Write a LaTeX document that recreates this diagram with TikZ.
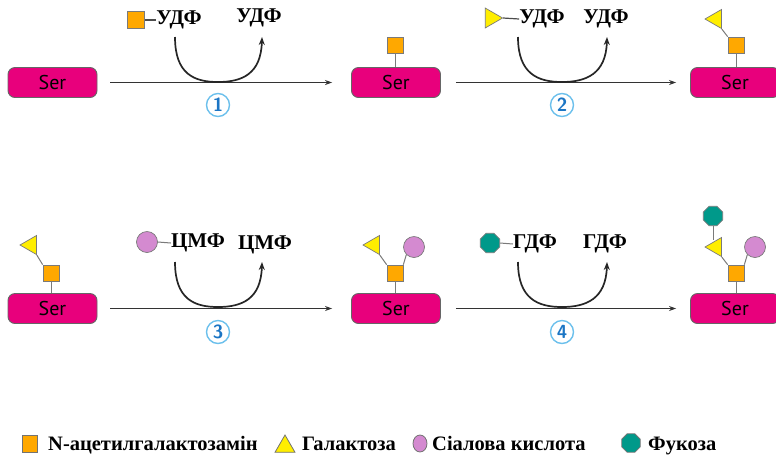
\documentclass[tikz,border=0pt]{standalone}
\usepackage{fontspec}
\setmainfont{Liberation Serif}
\newfontfamily\serfont{PT Sans}
\usetikzlibrary{shapes.geometric,arrows.meta}
\definecolor{sermag}{HTML}{E8007C}
\definecolor{gnac}{HTML}{FFA800}
\definecolor{ggal}{HTML}{FFEE00}
\definecolor{gsia}{HTML}{D48AD0}
\definecolor{gfuc}{HTML}{00998A}
\definecolor{numblue}{HTML}{1B75C4}
\definecolor{ringblue}{HTML}{6CC0EC}
\definecolor{edgegray}{HTML}{7A7A7A}
\begin{document}
\begin{tikzpicture}[x=1pt,y=-1pt,
 serbox/.style={rounded corners=7pt, fill=sermag, draw=black!60, line width=0.9pt, minimum width=89pt, minimum height=30pt, font=\serfont\fontsize{20}{20}\selectfont, inner sep=0},
 gnacs/.style={rectangle, fill=gnac, draw=edgegray, line width=0.7pt, minimum size=16pt, inner sep=0},
 ggalt/.style={regular polygon, regular polygon sides=3, fill=ggal, draw=edgegray, line width=0.7pt, minimum size=22pt, inner sep=0},
 gleft/.style={ggalt, shape border rotate=90},
 gright/.style={ggalt, shape border rotate=-90},
 gsiac/.style={circle, fill=gsia, draw=edgegray, line width=0.7pt, minimum size=21pt, inner sep=0},
 gfuco/.style={regular polygon, regular polygon sides=8, fill=gfuc, draw=edgegray, line width=0.7pt, minimum size=21pt, inner sep=0},
 bond/.style={draw=edgegray, line width=1pt},
 linkdash/.style={draw=black!70, line width=1.2pt},
 react/.style={draw=black!80, line width=1pt, -{Stealth[length=7pt,width=5pt]}},
 cofac/.style={draw=black!85, line width=1.7pt, -{Stealth[length=8pt,width=6pt]}},
 lbl/.style={font=\bfseries\fontsize{21}{21}\selectfont, inner sep=0},
 stepnum/.style={circle, draw=ringblue, line width=1.4pt, minimum size=23pt, inner sep=0, font=\sffamily\bfseries\fontsize{19}{19}\selectfont, text=numblue},
 leg/.style={font=\bfseries\fontsize{20.5}{20.5}\selectfont, inner sep=0, anchor=base west}
]
\useasboundingbox (0,0) rectangle (776,456);

% ---------- Row 1 ----------
\node[serbox] (s1) at (52.5,82.5) {Ser};
\node[serbox] (s2) at (396,82.5) {Ser};
\node[serbox] (s3) at (735,82.5) {Ser};

\node[gnacs] (s2a) at (395,45) {};
\draw[bond] (s2a.south) -- (s2a.south |- s2.north);

\node[gnacs] (s3a) at (736,45) {};
\node[gleft] (s3b) at (716,19) {};
\draw[bond] (s3a.south) -- (s3a.south |- s3.north);
\draw[bond] (s3b.corner 2) -- (s3a.north west);

\draw[react, shorten <=13pt, shorten >=19pt] (s1.east) -- (s2.west);
\draw[react, shorten <=15pt, shorten >=14pt] (s2.east) -- (s3.west);

\node[stepnum] (n1) at (218,105) {1};
\node[stepnum] (n2) at (562,105) {2};

% reaction 1
\node[gnacs, minimum size=17pt] (d1) at (136,20) {};
\node[lbl] (u1) at (179,20) {УДФ};
\node[lbl] (u2) at (259,18) {УДФ};
\draw[linkdash] (d1.east) -- (u1.west);
\coordinate (c1s) at (175,37);
\coordinate (c1m) at (218,82);
\coordinate (c1e) at (262,37);
\draw[cofac] (c1s) .. controls (175,74) and (194,82) .. (c1m) .. controls (242,82) and (261,74) .. (c1e);

% reaction 2
\node[gright, minimum size=23pt] (d2) at (491,18) {};
\node[lbl] (u3) at (542,19) {УДФ};
\node[lbl] (u4) at (606,19) {УДФ};
\draw[linkdash] (d2.corner 1) -- (u3.west);
\coordinate (c2s) at (518,37);
\coordinate (c2m) at (562,82);
\coordinate (c2e) at (607,37);
\draw[cofac] (c2s) .. controls (518,74) and (538,82) .. (c2m) .. controls (586,82) and (606,74) .. (c2e);

% ---------- Row 2 ----------
\node[serbox] (s4) at (52.5,308.5) {Ser};
\node[serbox] (s5) at (396,308.5) {Ser};
\node[serbox] (s6) at (735,308.5) {Ser};

\node[gnacs] (s4a) at (51,273) {};
\node[gleft] (s4b) at (31,245) {};
\draw[bond] (s4a.south) -- (s4a.south |- s4.north);
\draw[bond] (s4b.corner 2) -- (s4a.north west);

\node[gnacs] (s5a) at (395,273) {};
\node[gleft] (s5b) at (374,245) {};
\node[gsiac] (s5c) at (414,247) {};
\draw[bond] (s5a.south) -- (s5a.south |- s5.north);
\draw[bond] (s5b.corner 2) -- (s5a.north west);
\draw[bond] (s5c.south west) -- (s5a.north east);

\node[gnacs] (s6a) at (736,273) {};
\node[gleft] (s6b) at (716,247) {};
\node[gsiac] (s6c) at (755,247) {};
\node[gfuco] (s6d) at (713,216) {};
\draw[bond] (s6a.south) -- (s6a.south |- s6.north);
\draw[bond] (s6b.corner 2) -- (s6a.north west);
\draw[bond] (s6c.south west) -- (s6a.north east);
\draw[bond] (s6d.south) -- (s6d.south |- s6b.north);

\draw[react, shorten <=13pt, shorten >=19pt] (s4.east) -- (s5.west);
\draw[react, shorten <=15pt, shorten >=14pt] (s5.east) -- (s6.west);

\node[stepnum] (n3) at (218,332) {3};
\node[stepnum] (n4) at (562,332) {4};

% reaction 3
\node[gsiac] (d3) at (147,242) {};
\node[lbl] (u5) at (198,243) {ЦМФ};
\node[lbl] (u6) at (265,245) {ЦМФ};
\draw[bond] (d3.east) -- (u5.west);
\coordinate (c3s) at (175,262);
\coordinate (c3m) at (218,307);
\coordinate (c3e) at (262,262);
\draw[cofac] (c3s) .. controls (175,299) and (194,307) .. (c3m) .. controls (242,307) and (261,299) .. (c3e);

% reaction 4
\node[gfuco] (d4) at (490,243) {};
\node[lbl] (u7) at (535,244) {ГДФ};
\node[lbl] (u8) at (605,244) {ГДФ};
\draw[bond] (d4.east) -- (u7.west);
\coordinate (c4s) at (518,262);
\coordinate (c4m) at (562,307);
\coordinate (c4e) at (607,262);
\draw[cofac] (c4s) .. controls (518,299) and (538,307) .. (c4m) .. controls (586,307) and (606,299) .. (c4e);

% ---------- Legend ----------
\node[rectangle, fill=gnac, draw=black!55, line width=0.8pt, minimum width=15pt, minimum height=17pt, inner sep=0] (l1) at (29.5,443.5) {};
\node[leg] (l1t) at (48,450) {N-ацетилгалактозамін};
\node[regular polygon, regular polygon sides=3, fill=ggal, draw=black!55, line width=0.8pt, minimum size=23pt, inner sep=0] (l2) at (285,446.5) {};
\node[leg] (l2t) at (302,450) {Галактоза};
\node[ellipse, fill=gsia, draw=black!55, line width=0.8pt, minimum width=14pt, minimum height=17pt, inner sep=0] (l3) at (420,443.5) {};
\node[leg] (l3t) at (432,450) {Сіалова кислота};
\node[regular polygon, regular polygon sides=8, fill=gfuc, draw=black!55, line width=0.8pt, minimum size=20pt, inner sep=0] (l4) at (631,443) {};
\node[leg] (l4t) at (648,450) {Фукоза};
\end{tikzpicture}
\end{document}
